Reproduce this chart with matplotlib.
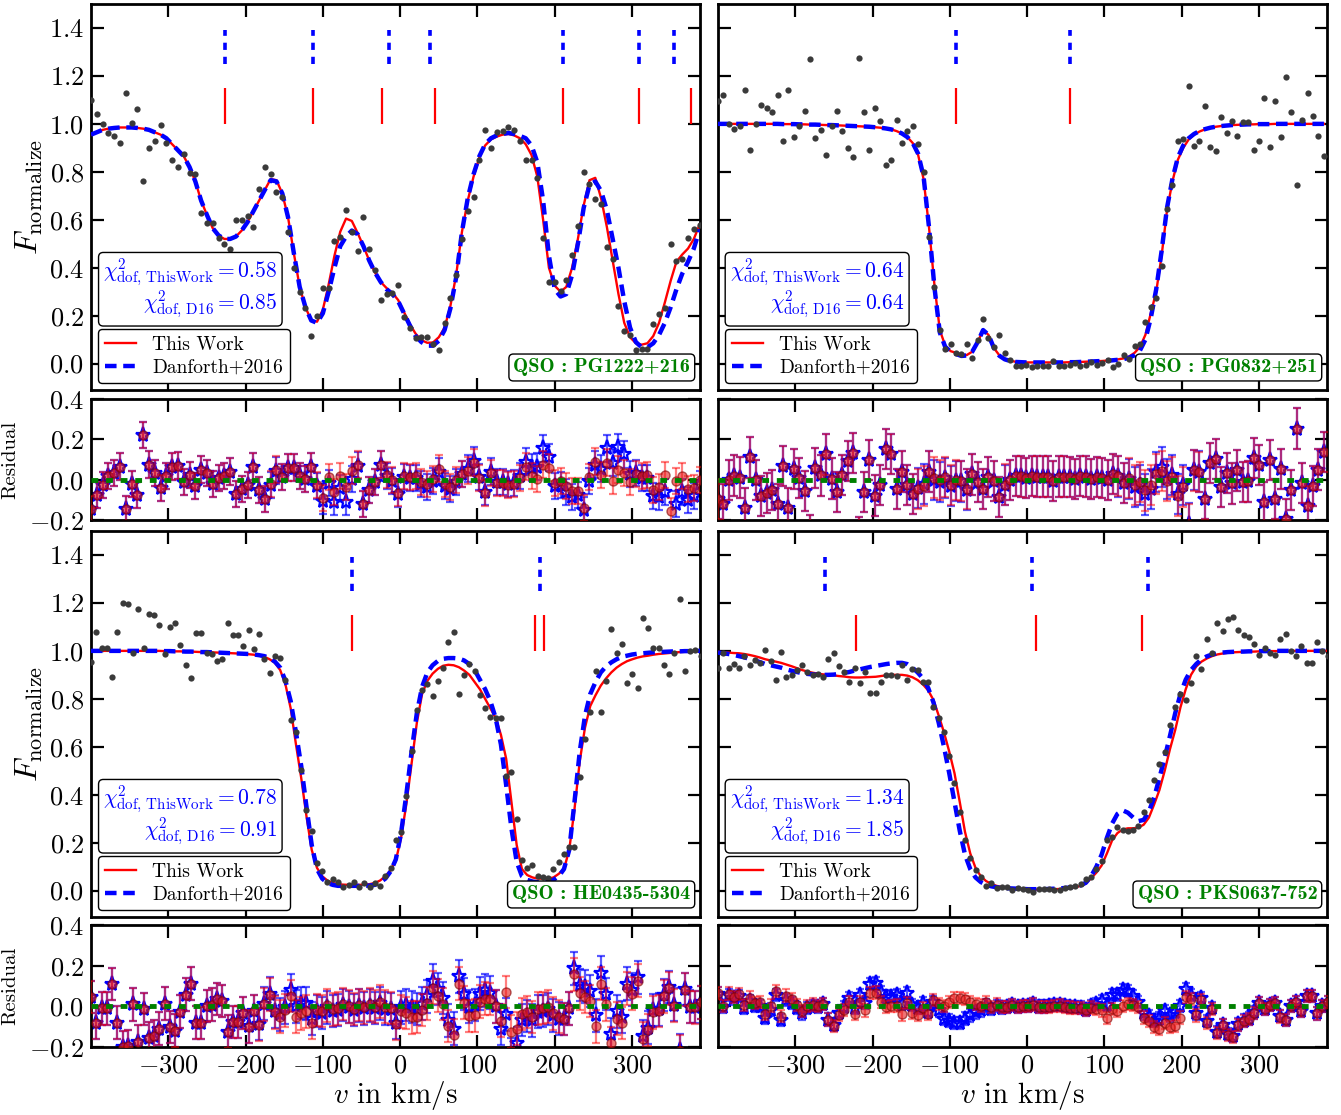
import numpy as np
import matplotlib
matplotlib.use("Agg")
import matplotlib.pyplot as plt
from matplotlib.lines import Line2D

plt.rcParams.update({
    'font.family': 'serif',
    'font.serif': ['cmr10', 'DejaVu Serif'],
    'mathtext.fontset': 'cm',
    'axes.formatter.use_mathtext': True,
    'axes.unicode_minus': True,
})

# ---------------- data ----------------
V_START = -400.0

# ---- PG1222+216 ----
PG1222_step = 7.5
PG1222_flux = [
    1.10, 1.04, 1.00, 0.96, 0.95, 0.92, 1.13, 1.005, 1.06, 0.76,
    0.90, 0.93, 0.995, 0.92, 0.85, 0.82, 0.875, 0.795, 0.79, 0.63,
    0.585, 0.585, 0.525, 0.50, 0.48, 0.60, 0.60, 0.615, 0.57, 0.73,
    0.82, 0.79, 0.715, 0.695, 0.55, 0.40, 0.30, 0.23, 0.115, 0.20,
    0.315, 0.315, 0.51, 0.53, 0.64, 0.55, 0.47, 0.61, 0.48, 0.39,
    0.265, 0.29, 0.295, 0.33, 0.195, 0.15, 0.105, 0.11, 0.11, 0.083,
    0.055, 0.17, 0.275, 0.37, 0.52, 0.635, 0.695, 0.85, 0.975, 0.90,
    0.965, 0.97, 0.985, 0.975, 0.93, 0.85, 0.85, 0.775, 0.525, 0.34,
    0.34, 0.305, 0.35, 0.455, 0.575, 0.80, 0.75, 0.685, 0.665, 0.485,
    0.435, 0.24, 0.135, 0.12, 0.055, 0.06, 0.06, 0.165, 0.205, 0.23,
    0.50, 0.43, 0.435, 0.525, 0.56, 0.58]
PG1222_tw = [
    0.955, 0.965, 0.975, 0.98, 0.983, 0.985, 0.985, 0.985, 0.983, 0.98,
    0.975, 0.965, 0.955, 0.94, 0.915, 0.89, 0.865, 0.82, 0.76, 0.68,
    0.62, 0.565, 0.535, 0.52, 0.52, 0.53, 0.555, 0.59, 0.635, 0.68,
    0.725, 0.77, 0.765, 0.71, 0.61, 0.46, 0.32, 0.235, 0.18, 0.175,
    0.225, 0.33, 0.45, 0.55, 0.605, 0.595, 0.545, 0.49, 0.43, 0.38,
    0.34, 0.315, 0.295, 0.265, 0.215, 0.165, 0.125, 0.098, 0.087, 0.088,
    0.11, 0.15, 0.24, 0.37, 0.55, 0.68, 0.78, 0.86, 0.91, 0.935,
    0.947, 0.955, 0.958, 0.952, 0.94, 0.915, 0.87, 0.78, 0.60, 0.40,
    0.325, 0.30, 0.32, 0.40, 0.52, 0.66, 0.765, 0.775, 0.69, 0.57,
    0.43, 0.29, 0.17, 0.11, 0.085, 0.079, 0.085, 0.115, 0.17, 0.255,
    0.345, 0.425, 0.455, 0.48, 0.52, 0.58]
PG1222_d16 = [
    0.955, 0.965, 0.975, 0.98, 0.983, 0.985, 0.985, 0.985, 0.983, 0.98,
    0.975, 0.965, 0.955, 0.94, 0.915, 0.89, 0.865, 0.82, 0.76, 0.68,
    0.62, 0.565, 0.535, 0.52, 0.52, 0.53, 0.555, 0.59, 0.635, 0.68,
    0.725, 0.765, 0.76, 0.71, 0.61, 0.46, 0.32, 0.235, 0.18, 0.17,
    0.21, 0.30, 0.40, 0.49, 0.53, 0.555, 0.54, 0.49, 0.43, 0.38,
    0.34, 0.31, 0.29, 0.26, 0.21, 0.16, 0.115, 0.09, 0.075, 0.075,
    0.095, 0.14, 0.23, 0.36, 0.55, 0.69, 0.79, 0.865, 0.915, 0.94,
    0.952, 0.958, 0.962, 0.958, 0.95, 0.94, 0.91, 0.84, 0.68, 0.45,
    0.31, 0.28, 0.29, 0.37, 0.50, 0.65, 0.745, 0.76, 0.72, 0.64,
    0.52, 0.40, 0.26, 0.15, 0.09, 0.068, 0.068, 0.085, 0.12, 0.17,
    0.235, 0.31, 0.375, 0.425, 0.48, 0.56]
PG1222_err = 0.065
PG1222_comp_tw = [-226, -113, -23, 45, 211, 309, 376]
PG1222_comp_d16 = [-226, -113, -15, 38, 211, 309, 354]
PG1222_chi = (0.58, 0.85)

# ---- PG0832+251 ----
PG0832_step = 7.0
PG0832_flux = [
    1.095, 1.12, 1.00, 0.98, 0.99, 1.14, 0.89, 1.00, 1.08, 1.065,
    1.05, 1.12, 0.93, 1.14, 0.945, 0.99, 1.055, 1.27, 0.94, 0.975,
    0.87, 0.99, 1.055, 0.97, 0.90, 0.86, 1.275, 1.05, 0.89, 1.065,
    1.01, 0.83, 0.85, 1.015, 0.92, 0.97, 0.99, 0.915, 0.80, 0.53,
    0.32, 0.14, 0.062, 0.08, 0.046, 0.041, 0.083, 0.024, 0.10, 0.187,
    0.107, 0.07, 0.12, 0.044, 0.014, -0.01, -0.01, -0.004, -0.014, -0.01,
    -0.01, -0.01, 0.01, -0.01, -0.01, -0.007, 0.004, -0.01, -0.007, 0.007,
    -0.004, 0.004, 0.014, -0.014, 0.0, 0.037, 0.021, 0.073, 0.083, 0.173,
    0.235, 0.272, 0.408, 0.647, 0.747, 0.93, 0.935, 1.158, 0.909, 0.93,
    1.074, 0.903, 0.885, 1.028, 0.961, 1.014, 0.95, 1.007, 1.007, 0.89,
    0.927, 1.11, 0.903, 1.097, 0.947, 1.194, 1.05, 0.747, 1.016, 1.13,
    1.033, 0.95, 0.864]
PG0832_tw = [
    1.0, 1.0, 1.0, 1.0, 1.0, 1.0, 1.0, 1.0, 1.0, 1.0,
    1.0, 1.0, 0.999, 0.999, 0.999, 0.998, 0.998, 0.997, 0.997, 0.996,
    0.995, 0.995, 0.994, 0.993, 0.992, 0.991, 0.99, 0.989, 0.988, 0.986,
    0.984, 0.981, 0.977, 0.97, 0.96, 0.945, 0.92, 0.87, 0.77, 0.57,
    0.33, 0.14, 0.075, 0.052, 0.045, 0.036, 0.036, 0.05, 0.09, 0.14,
    0.12, 0.065, 0.035, 0.02, 0.012, 0.008, 0.006, 0.005, 0.005, 0.005,
    0.005, 0.005, 0.005, 0.005, 0.005, 0.006, 0.006, 0.007, 0.008, 0.009,
    0.01, 0.011, 0.013, 0.015, 0.018, 0.022, 0.03, 0.045, 0.07, 0.12,
    0.21, 0.30, 0.45, 0.64, 0.76, 0.85, 0.90, 0.935, 0.955, 0.968,
    0.977, 0.984, 0.988, 0.991, 0.993, 0.995, 0.996, 0.997, 0.998, 0.998,
    0.999, 0.999, 0.999, 1.0, 1.0, 1.0, 1.0, 1.0, 1.0, 1.0,
    1.0, 1.0, 1.0]
PG0832_d16 = [
    1.0, 1.0, 1.0, 1.0, 1.0, 1.0, 1.0, 1.0, 1.0, 1.0,
    1.0, 1.0, 0.999, 0.999, 0.999, 0.998, 0.998, 0.997, 0.997, 0.996,
    0.995, 0.995, 0.994, 0.993, 0.992, 0.991, 0.99, 0.989, 0.988, 0.986,
    0.984, 0.981, 0.977, 0.97, 0.96, 0.945, 0.92, 0.875, 0.78, 0.57,
    0.32, 0.13, 0.07, 0.05, 0.04, 0.032, 0.034, 0.05, 0.09, 0.14,
    0.12, 0.065, 0.033, 0.018, 0.011, 0.007, 0.006, 0.005, 0.005, 0.005,
    0.005, 0.005, 0.005, 0.005, 0.005, 0.006, 0.006, 0.007, 0.008, 0.009,
    0.01, 0.011, 0.012, 0.014, 0.016, 0.019, 0.025, 0.035, 0.055, 0.10,
    0.19, 0.31, 0.47, 0.65, 0.77, 0.86, 0.91, 0.94, 0.958, 0.97,
    0.978, 0.984, 0.988, 0.991, 0.993, 0.995, 0.996, 0.997, 0.998, 0.998,
    0.999, 0.999, 0.999, 1.0, 1.0, 1.0, 1.0, 1.0, 1.0, 1.0,
    1.0, 1.0, 1.0]
PG0832_err = 0.10
PG0832_comp_tw = [-92, 55]
PG0832_comp_d16 = [-92, 55]
PG0832_chi = (0.64, 0.64)

# ---- HE0435-5304 ----
HE0435_step = 6.8
HE0435_flux = [
    0.955, 1.08, 1.01, 1.01, 0.89, 1.08, 1.20, 1.197, 0.99, 1.173,
    1.014, 1.155, 1.148, 1.11, 0.986, 1.10, 1.118, 1.024, 0.94, 0.886,
    1.076, 1.076, 0.993, 0.986, 0.958, 0.965, 1.115, 1.066, 1.066, 1.02,
    1.086, 1.007, 1.07, 0.965, 0.907, 0.98, 0.97, 0.88, 0.71, 0.66,
    0.504, 0.335, 0.25, 0.114, 0.083, 0.037, 0.047, 0.037, 0.014, 0.024,
    0.037, 0.017, 0.03, 0.017, 0.033, 0.019, 0.061, 0.093, 0.213, 0.245,
    0.393, 0.584, 0.753, 0.837, 0.861, 0.813, 0.873, 0.927, 1.039, 1.08,
    0.82, 0.90, 0.947, 0.914, 0.817, 0.762, 0.723, 0.72, 0.72, 0.48,
    0.494, 0.30, 0.127, 0.093, 0.107, 0.061, 0.058, 0.051, 0.089, 0.12,
    0.152, 0.18, 0.183, 0.476, 0.633, 0.744, 0.914, 0.744, 0.875, 1.09,
    0.99, 1.028, 0.868, 0.903, 0.845, 1.136, 1.097, 1.014, 1.01, 0.94,
    0.903, 0.99, 1.215, 0.914, 1.0, 1.003, 0.98]
HE0435_tw = [
    1.0, 1.0, 1.0, 1.0, 1.0, 1.0, 1.0, 1.0, 1.0, 1.0,
    1.0, 1.0, 1.0, 1.0, 0.999, 0.999, 0.998, 0.998, 0.997, 0.997,
    0.996, 0.995, 0.995, 0.994, 0.993, 0.992, 0.991, 0.99, 0.989, 0.988,
    0.986, 0.984, 0.98, 0.975, 0.965, 0.95, 0.92, 0.86, 0.76, 0.61,
    0.47, 0.31, 0.17, 0.095, 0.06, 0.042, 0.032, 0.027, 0.025, 0.024,
    0.024, 0.024, 0.025, 0.027, 0.032, 0.042, 0.06, 0.085, 0.125, 0.22,
    0.36, 0.53, 0.70, 0.82, 0.875, 0.905, 0.925, 0.938, 0.942, 0.94,
    0.932, 0.918, 0.90, 0.87, 0.84, 0.80, 0.76, 0.72, 0.65, 0.55,
    0.37, 0.19, 0.09, 0.065, 0.055, 0.05, 0.05, 0.05, 0.055, 0.07,
    0.09, 0.17, 0.34, 0.54, 0.68, 0.77, 0.815, 0.855, 0.885, 0.91,
    0.93, 0.945, 0.957, 0.965, 0.972, 0.977, 0.98, 0.984, 0.987, 0.989,
    0.991, 0.993, 0.995, 0.996, 0.997, 0.998, 0.999]
HE0435_d16 = [
    1.0, 1.0, 1.0, 1.0, 1.0, 1.0, 1.0, 1.0, 1.0, 1.0,
    1.0, 1.0, 1.0, 1.0, 0.999, 0.999, 0.998, 0.998, 0.997, 0.997,
    0.996, 0.995, 0.995, 0.994, 0.993, 0.992, 0.991, 0.99, 0.989, 0.988,
    0.987, 0.985, 0.982, 0.978, 0.97, 0.955, 0.93, 0.875, 0.79, 0.66,
    0.52, 0.35, 0.19, 0.09, 0.05, 0.032, 0.024, 0.02, 0.02, 0.02,
    0.02, 0.02, 0.02, 0.021, 0.024, 0.034, 0.05, 0.08, 0.13, 0.24,
    0.40, 0.58, 0.74, 0.85, 0.91, 0.94, 0.958, 0.967, 0.97, 0.97,
    0.968, 0.96, 0.945, 0.92, 0.88, 0.84, 0.79, 0.72, 0.61, 0.44,
    0.26, 0.12, 0.06, 0.045, 0.038, 0.035, 0.035, 0.037, 0.045, 0.06,
    0.09, 0.17, 0.37, 0.58, 0.73, 0.82, 0.87, 0.91, 0.935, 0.952,
    0.965, 0.975, 0.98, 0.985, 0.988, 0.99, 0.992, 0.994, 0.995, 0.996,
    0.997, 0.998, 0.998, 0.999, 0.999, 1.0, 1.0]
HE0435_err = 0.08
HE0435_comp_tw = [-62, 175, 186]
HE0435_comp_d16 = [-62, 181]
HE0435_chi = (0.78, 0.91)

# ---- PKS0637-752 ----
PKS0637_step = 6.8
PKS0637_flux = [
    0.93, 0.993, 0.93, 0.944, 0.928, 0.98, 0.94, 0.96, 0.951, 1.003,
    0.956, 0.88, 0.997, 0.89, 0.90, 0.92, 0.942, 0.913, 0.90, 0.903,
    0.89, 0.965, 0.993, 0.9375, 0.91, 0.87, 0.928, 0.868, 0.91, 0.824,
    0.824, 0.872, 0.90, 0.90, 0.896, 0.94, 0.88, 0.924, 0.92, 0.87,
    0.872, 0.764, 0.72, 0.66, 0.56, 0.45, 0.33, 0.21, 0.135, 0.085,
    0.056, 0.021, 0.031, 0.011, 0.017, 0.014, 0.003, 0.011, 0.007, 0.003,
    -0.004, 0.007, 0.007, 0.007, 0.003, 0.003, 0.011, 0.017, 0.021, 0.028,
    0.049, 0.058, 0.09, 0.125, 0.211, 0.225, 0.264, 0.253, 0.25, 0.253,
    0.268, 0.33, 0.378, 0.46, 0.53, 0.58, 0.69, 0.767, 0.82, 0.795,
    0.864, 0.98, 0.924, 1.049, 0.993, 1.118, 1.083, 1.132, 1.143, 1.086,
    1.067, 1.058, 1.028, 0.983, 1.01, 0.993, 0.983, 1.049, 1.069, 1.0,
    0.979, 1.021, 0.949, 0.949, 1.035, 1.0, 0.98]
PKS0637_tw = [
    0.996, 0.994, 0.993, 0.991, 0.99, 0.987, 0.983, 0.978, 0.972, 0.965,
    0.96, 0.955, 0.95, 0.943, 0.936, 0.928, 0.92, 0.914, 0.909, 0.905,
    0.902, 0.90, 0.898, 0.895, 0.893, 0.89, 0.889, 0.889, 0.89, 0.891,
    0.892, 0.895, 0.898, 0.90, 0.90, 0.90, 0.897, 0.89, 0.878, 0.86,
    0.835, 0.795, 0.73, 0.66, 0.58, 0.49, 0.37, 0.245, 0.155, 0.095,
    0.06, 0.04, 0.028, 0.02, 0.015, 0.012, 0.01, 0.008, 0.007, 0.006,
    0.005, 0.004, 0.005, 0.005, 0.006, 0.007, 0.009, 0.011, 0.014, 0.02,
    0.03, 0.052, 0.075, 0.105, 0.155, 0.21, 0.24, 0.255, 0.26, 0.26,
    0.263, 0.275, 0.305, 0.36, 0.42, 0.50, 0.59, 0.67, 0.765, 0.84,
    0.90, 0.935, 0.955, 0.968, 0.978, 0.985, 0.989, 0.992, 0.994, 0.995,
    0.996, 0.997, 0.997, 0.998, 0.998, 0.999, 0.999, 0.999, 1.0, 1.0,
    1.0, 1.0, 1.0, 1.0, 1.0, 1.0, 1.0]
PKS0637_d16 = [
    0.993, 0.99, 0.987, 0.983, 0.978, 0.973, 0.967, 0.96, 0.953, 0.945,
    0.94, 0.935, 0.93, 0.923, 0.917, 0.912, 0.907, 0.904, 0.902, 0.90,
    0.90, 0.90, 0.901, 0.904, 0.908, 0.912, 0.918, 0.923, 0.928, 0.933,
    0.937, 0.941, 0.945, 0.948, 0.95, 0.95, 0.945, 0.93, 0.91, 0.885,
    0.845, 0.785, 0.70, 0.60, 0.49, 0.37, 0.25, 0.15, 0.09, 0.055,
    0.036, 0.025, 0.018, 0.014, 0.011, 0.01, 0.009, 0.008, 0.007, 0.006,
    0.006, 0.006, 0.006, 0.007, 0.008, 0.009, 0.011, 0.013, 0.016, 0.022,
    0.033, 0.06, 0.10, 0.15, 0.22, 0.28, 0.32, 0.335, 0.325, 0.305,
    0.29, 0.295, 0.33, 0.39, 0.47, 0.555, 0.645, 0.74, 0.82, 0.88,
    0.92, 0.945, 0.965, 0.977, 0.985, 0.99, 0.993, 0.995, 0.996, 0.997,
    0.997, 0.998, 0.998, 0.999, 0.999, 0.999, 1.0, 1.0, 1.0, 1.0,
    1.0, 1.0, 1.0, 1.0, 1.0, 1.0, 1.0]
PKS0637_err = 0.03
PKS0637_comp_tw = [-221, 12, 149]
PKS0637_comp_d16 = [-261, 6, 157]
PKS0637_chi = (1.34, 1.85)

panels = [
    ("PG1222+216", PG1222_step, PG1222_flux, PG1222_tw, PG1222_d16, PG1222_err,
     PG1222_comp_tw, PG1222_comp_d16, PG1222_chi),
    ("PG0832+251", PG0832_step, PG0832_flux, PG0832_tw, PG0832_d16, PG0832_err,
     PG0832_comp_tw, PG0832_comp_d16, PG0832_chi),
    ("HE0435-5304", HE0435_step, HE0435_flux, HE0435_tw, HE0435_d16, HE0435_err,
     HE0435_comp_tw, HE0435_comp_d16, HE0435_chi),
    ("PKS0637-752", PKS0637_step, PKS0637_flux, PKS0637_tw, PKS0637_d16, PKS0637_err,
     PKS0637_comp_tw, PKS0637_comp_d16, PKS0637_chi),
]

# ---------------- layout ----------------
W, H = 1341, 1115
fig = plt.figure(figsize=(W / 100, H / 100), dpi=100)


def ax_at(x0, y0, x1, y1):
    return fig.add_axes([x0 / W, 1 - y1 / H, (x1 - x0) / W, (y1 - y0) / H])


cols = [(91, 700), (718, 1327)]
rows = [((4, 390), (399, 520)), ((531, 917), (925, 1047))]

XLIM = (-400, 388)
XTICKS = [-300, -200, -100, 0, 100, 200, 300]


def style(ax):
    ax.tick_params(direction='in', which='both', top=True, right=True,
                   length=9, width=1.6, labelsize=19, pad=5)
    for s in ax.spines.values():
        s.set_linewidth(2.0)


for i, (name, step, flux, tw, d16, err, ctw, cd16, chi) in enumerate(panels):
    r, c = divmod(i, 2)
    (my0, my1), (ry0, ry1) = rows[r]
    x0, x1 = cols[c]
    n = min(len(flux), len(tw), len(d16))
    v = V_START + step * np.arange(n)
    f = np.asarray(flux[:n], float)
    m_tw = np.asarray(tw[:n], float)
    m_d16 = np.asarray(d16[:n], float)

    # main panel
    ax = ax_at(x0, my0, x1, my1)
    style(ax)
    ax.plot(v, m_tw, color='red', lw=1.7, zorder=3)
    ax.plot(v, m_d16, color='blue', lw=3.2, dashes=(2.6, 1.5), zorder=4)
    ax.plot(v, f, 'o', color='#3a3a3a', ms=4.5, mec='none', zorder=5)
    ax.vlines(ctw, 1.0, 1.15, colors='red', lw=1.6)
    ax.vlines(cd16, 1.25, 1.39, colors='blue', lw=2.6, linestyles=[(0, (2.0, 1.9))])
    ax.set_xlim(*XLIM)
    ax.set_ylim(-0.11, 1.5)
    ax.set_xticks(XTICKS)
    ax.set_yticks([0.0, 0.2, 0.4, 0.6, 0.8, 1.0, 1.2, 1.4])
    ax.tick_params(labelbottom=False)
    if c == 0:
        ax.set_ylabel(r'$F_{\rm normalize}$', fontsize=23)
        ax.yaxis.set_label_coords(-0.075, 0.5)
    else:
        ax.tick_params(labelleft=False)

    handles = [Line2D([], [], color='red', lw=1.7),
               Line2D([], [], color='blue', lw=3.2, dashes=(2.6, 1.5))]
    leg = ax.legend(handles, ['This Work', 'Danforth+2016'], loc='lower left',
                    fontsize=14, fancybox=True, framealpha=1, edgecolor='black',
                    handlelength=1.6, handletextpad=0.85, borderaxespad=0.35,
                    borderpad=0.35, labelspacing=0.25)
    leg.get_frame().set_linewidth(1.0)
    leg.set_zorder(10)

    ax.text(0.306, 0.178,
            r'$\chi^2_{\rm dof,\,ThisWork} = %.2f$' % chi[0] + '\n' +
            r'$\chi^2_{\rm dof,\,D16} = %.2f$' % chi[1],
            transform=ax.transAxes, ha='right', va='bottom', multialignment='right',
            color='blue', fontsize=15.5, zorder=11, linespacing=1.0,
            bbox=dict(boxstyle='round,pad=0.22', fc='white', ec='black', lw=1.0))

    ax.text(0.984, 0.035, 'QSO : ' + name, transform=ax.transAxes,
            ha='right', va='bottom', color='green', fontsize=14.6,
            family='cmb10', zorder=11,
            bbox=dict(boxstyle='round,pad=0.22', fc='white', ec='black', lw=1.0))

    # residual panel
    ar = ax_at(x0, ry0, x1, ry1)
    style(ar)
    res_d16 = m_d16 - f
    res_tw = m_tw - f
    ar.errorbar(v, res_d16, yerr=err, fmt='*', ms=11, mfc='none', mec='blue',
                mew=1.6, ecolor=(0, 0, 1, 0.65), elinewidth=1.6, capsize=3,
                capthick=1.6, zorder=2)
    ar.errorbar(v, res_tw, yerr=err, fmt='o', ms=6.5, mfc=(0.9, 0.1, 0.1, 0.6),
                mec=(0.5, 0, 0, 0.6), ecolor=(1, 0, 0, 0.5), elinewidth=1.6,
                capsize=3, capthick=1.6, zorder=3)
    ar.axhline(0, color='green', lw=3.5, dashes=(1.4, 1.6), zorder=5)
    ar.set_xlim(*XLIM)
    ar.set_ylim(-0.2, 0.4)
    ar.set_xticks(XTICKS)
    ar.set_yticks([-0.2, 0.0, 0.2, 0.4])
    if r == 1:
        ar.set_xlabel(r'$v$ in km/s', fontsize=21, labelpad=1)
    else:
        ar.tick_params(labelbottom=False)
    if c == 0:
        ar.set_ylabel('Residual', fontsize=15)
        ar.yaxis.set_label_coords(-0.118, 0.5)
    else:
        ar.tick_params(labelleft=False)

fig.savefig('out.png', dpi=100)
